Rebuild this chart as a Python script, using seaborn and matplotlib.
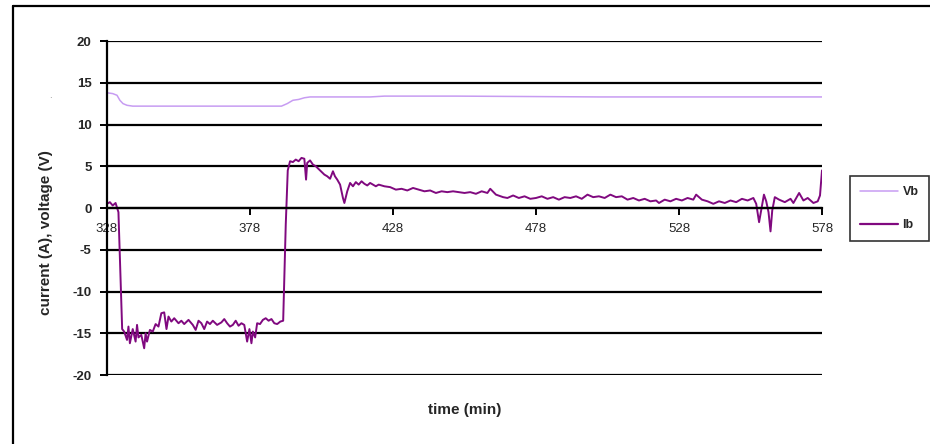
import pandas as pd
import seaborn as sns
import matplotlib.pyplot as plt
from matplotlib.lines import Line2D

# --- data ---
vb_time = [328, 330, 331.5, 332.5, 333.6, 335, 337, 350, 370, 389, 391, 393, 395, 397, 399,
           420, 425, 450, 500, 540, 560, 578]
vb_volt = [13.8, 13.7, 13.5, 12.9, 12.5, 12.3, 12.2, 12.2, 12.2, 12.2, 12.5, 12.9, 13.0, 13.2, 13.3,
           13.3, 13.4, 13.4, 13.3, 13.3, 13.3, 13.3]

ib_time = [328, 329, 330, 331, 332, 332.8, 333.3, 334, 335, 335.5, 336, 337, 338, 338.5, 339, 340,
           341, 341.5, 342, 343, 344, 345, 346, 347, 348, 348.8, 349.5, 350.5, 351.5, 353, 354, 355,
           356.5, 358, 359, 360, 361, 362, 363, 364, 365, 366.5, 368, 369, 370, 371, 372, 373, 374,
           375, 376, 377, 377.8, 378.5, 379, 379.8, 380.5, 381.5, 382.5, 383.5, 384.5, 385.5, 386.5,
           387.5, 388.6, 389.6, 390.5, 391.2, 392, 393, 394, 395, 396, 397, 397.6, 398, 399, 400,
           401, 402.5, 404, 405, 406, 407, 407.7, 408.5, 409.5, 410.5, 411, 412, 413, 414, 415, 416,
           417, 418, 419, 420, 421, 422, 423, 425, 427, 429, 431, 433, 435, 437, 439, 441, 443, 445,
           447, 449, 451, 453, 455, 457, 459, 461, 462, 464, 466.5, 468, 470, 472, 474, 476, 478,
           480, 482, 484, 486, 488, 490, 492, 494, 496, 498, 500, 502, 504, 506, 508, 510, 512, 514,
           516, 518, 520, 521, 523, 525, 527, 529, 531, 533, 534, 536, 538, 540, 542, 544, 546, 548,
           550, 552, 554, 555, 556, 557, 557.7, 558.5, 559.3, 560, 560.6, 561.5, 563, 565, 567, 568,
           570, 571.5, 573, 575, 576.5, 577.3, 578]
ib_amp = [0.5, 0.7, 0.3, 0.6, -0.5, -9, -14.5, -14.8, -15.8, -14.2, -16.2, -14.5, -16.0, -14.0, -15.5,
          -15.2, -16.8, -15.0, -16.0, -14.6, -14.8, -13.9, -14.2, -12.6, -12.5, -14.5, -13.0, -13.6,
          -13.2, -13.8, -13.5, -13.9, -13.4, -14.0, -14.6, -13.5, -13.8, -14.5, -13.6, -13.9, -13.5,
          -14.0, -13.7, -13.3, -13.8, -14.2, -14.0, -13.5, -14.1, -13.8, -14.0, -16.0, -14.5, -16.2,
          -14.8, -15.5, -13.8, -13.9, -13.4, -13.2, -13.5, -13.3, -13.8, -13.9, -13.6, -13.5, -2,
          4.5, 5.6, 5.5, 5.8, 5.6, 6.0, 5.9, 3.4, 5.4, 5.7, 5.2, 5.0, 4.5, 4.0, 3.8, 3.5, 4.4, 3.8,
          3.4, 2.8, 1.2, 0.6, 2.0, 3.0, 2.6, 3.1, 2.8, 3.2, 2.9, 2.7, 3.0, 2.8, 2.6, 2.8, 2.6, 2.5,
          2.2, 2.3, 2.1, 2.4, 2.2, 2.0, 2.1, 1.8, 2.0, 1.9, 2.0, 1.9, 1.8, 1.9, 1.7, 2.0, 1.8, 2.3,
          1.6, 1.3, 1.2, 1.5, 1.2, 1.4, 1.1, 1.2, 1.4, 1.1, 1.3, 1.0, 1.3, 1.2, 1.4, 1.1, 1.6, 1.3,
          1.4, 1.2, 1.6, 1.3, 1.4, 1.0, 1.2, 0.9, 1.1, 0.8, 0.9, 0.6, 1.0, 0.8, 1.1, 0.9, 1.2, 1.0,
          1.6, 1.0, 0.8, 0.5, 0.8, 0.6, 0.9, 0.7, 1.1, 0.9, 1.2, 0.5, -1.7, 0.2, 1.6, 0.8, -0.5,
          -2.8, -0.3, 1.3, 1.0, 0.7, 1.1, 0.6, 1.8, 0.9, 1.2, 0.6, 0.8, 1.5, 4.5]

x_ticks = [328, 378, 428, 478, 528, 578]
y_ticks = [-20, -15, -10, -5, 0, 5, 10, 15, 20]

df = pd.concat([
    pd.DataFrame({'time': vb_time, 'value': vb_volt, 'series': 'Vb'}),
    pd.DataFrame({'time': ib_time, 'value': ib_amp, 'series': 'Ib'}),
])

sns.set_style('white')
plt.rcParams['font.family'] = ['Liberation Sans', 'DejaVu Sans']

fig = plt.figure(figsize=(9.3, 4.44), dpi=100)
ax = fig.add_axes([107 / 930, 1 - 375 / 444, 715 / 930, 334 / 444])

sns.lineplot(data=df, x='time', y='value', hue='series', sort=False,
             palette={'Vb': '#c79cf2', 'Ib': '#80097f'}, ax=ax, legend=False)
ax.lines[0].set_linewidth(1.1)
ax.lines[1].set_linewidth(1.4)

# x axis crosses at zero (set before tick labels, this resets ticks)
ax.spines['bottom'].set_position(('data', 0))
ax.spines['top'].set_visible(False)
ax.spines['right'].set_visible(False)
for s in ('bottom', 'left'):
    ax.spines[s].set_linewidth(1.6)
    ax.spines[s].set_color('black')

ax.set_xlim(328, 578)
ax.set_ylim(-20, 20)
ax.set_xticks(x_ticks)
ax.set_yticks(y_ticks)
ax.set_xticklabels([str(t) for t in x_ticks], fontsize=9.5)
ax.set_yticklabels([str(t) for t in y_ticks], fontsize=9.5, fontweight='bold')

for v in y_ticks:
    ax.axhline(v, color='black', linewidth=1.6, zorder=0)

ax.tick_params(axis='both', direction='out', length=5, width=1.4, color='black',
               left=True, bottom=True)
ax.tick_params(axis='x', pad=6)
ax.tick_params(axis='y', pad=6)

ax.set_xlabel('')
ax.set_ylabel('')
fig.text(465 / 930, 1 - 410 / 444, 'time (min)', ha='center', va='center',
         fontsize=11, fontweight='bold')
fig.text(46 / 930, 1 - 233 / 444, 'current (A), voltage (V)', ha='center', va='center',
         rotation=90, fontsize=11, fontweight='bold')
fig.text(50 / 930, 1 - 95 / 444, '.', ha='center', va='center', fontsize=7, color='#888888')

handles = [Line2D([], [], color='#c79cf2', linewidth=1.1),
           Line2D([], [], color='#80097f', linewidth=1.6)]
leg = fig.legend(handles, ['Vb', 'Ib'], loc='upper left',
                 bbox_to_anchor=(850 / 930, 1 - 176 / 444), frameon=True, fancybox=False,
                 prop={'size': 9, 'weight': 'bold'}, handlelength=3.0, handletextpad=0.4,
                 labelspacing=1.7, borderpad=0.8, borderaxespad=0)
leg.get_frame().set_edgecolor('black')
leg.get_frame().set_linewidth(1.2)

# outer chart frame (left and top edges visible)
fig.add_artist(Line2D([12.5 / 930, 12.5 / 930], [0, 1 - 6 / 444], color='black', linewidth=1.6,
                      transform=fig.transFigure))
fig.add_artist(Line2D([12.5 / 930, 1], [1 - 6 / 444, 1 - 6 / 444], color='black', linewidth=1.6,
                      transform=fig.transFigure))

fig.savefig('out.png', dpi=100)
